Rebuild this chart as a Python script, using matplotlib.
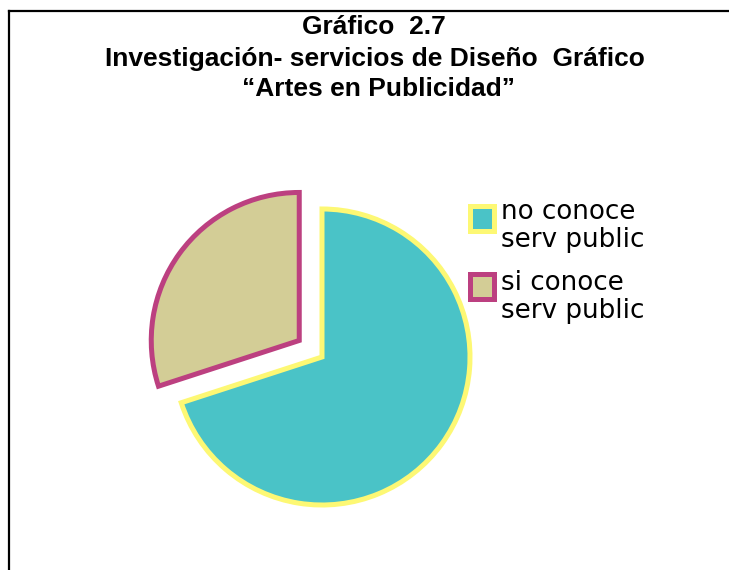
import matplotlib.pyplot as plt
from matplotlib.lines import Line2D
from matplotlib.patches import Rectangle

title_lines = ["Gráfico  2.7", "Investigación- servicios de Diseño  Gráfico", "“Artes en Publicidad”"]
labels = ["no conoce\nserv public", "si conoce\nserv public"]
values = [70, 30]
colors = ["#4AC3C7", "#D3CD96"]
edges = ["#FDF874", "#BC4080"]
explode = [0, 0.19]

W, H = 729, 570
fig = plt.figure(figsize=(W / 100, H / 100), dpi=100)

# pie axes placed so the centre sits where the reference has it
R = 148
cx, cy = 322, 357
ax = fig.add_axes([(cx - R) / W, (H - cy - R) / H, 2 * R / W, 2 * R / H])
wedges, _ = ax.pie(values, colors=colors, explode=explode, startangle=90,
                   counterclock=False,
                   wedgeprops=dict(linewidth=3.6, joinstyle='miter'))
for w, ec in zip(wedges, edges):
    w.set_edgecolor(ec)
    w.set_clip_on(False)
ax.set_xlim(-1, 1)
ax.set_ylim(-1, 1)
ax.set_aspect('auto')
ax.axis('off')

# title, one text per line
for line, base, xc in zip(title_lines, [34, 66, 96], [374, 375, 378]):
    fig.text(xc / W, 1 - base / H, line, ha='center', va='baseline',
             fontsize=19, fontweight='bold', family='Liberation Sans')

# legend: squares next to two-line labels
for i, (lab, c, e) in enumerate(zip(labels, colors, edges)):
    top = 205.5 + i * 68.5
    fig.add_artist(Rectangle((469.5 / W, 1 - (top + 25) / H), 24 / W, 25 / H,
                             facecolor=c, edgecolor=e, linewidth=3.6,
                             joinstyle='miter', transform=fig.transFigure))
    fig.text(501 / W, 1 - (247 + i * 70.5) / H, lab, ha='left', va='baseline',
             fontsize=18.8, linespacing=1.08, family='DejaVu Sans')

# frame lines (top and left only)
fig.add_artist(Line2D([9 / W, 1], [1 - 11 / H, 1 - 11 / H], color='black', lw=1.6,
                      transform=fig.transFigure))
fig.add_artist(Line2D([9 / W, 9 / W], [0, 1 - 11 / H], color='black', lw=1.6,
                      transform=fig.transFigure))

fig.savefig("out.png", dpi=100)
